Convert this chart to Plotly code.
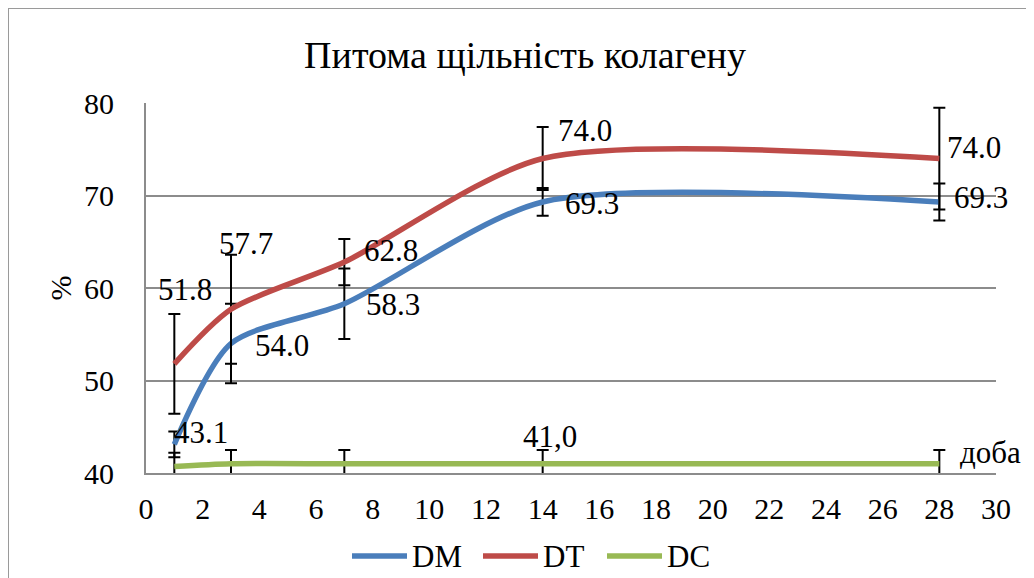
import plotly.graph_objects as go

# ---- data ----
days = [1, 3, 7, 14, 28]
dm_values = [43.1, 54.0, 58.3, 69.3, 69.3]
dt_values = [51.8, 57.7, 62.8, 74.0, 74.0]
dc_values = [40.7, 41.0, 41.0, 41.0, 41.0]
dm_err = [1.4, 4.3, 3.8, 1.5, 2.0]
dt_err = [5.4, 5.9, 2.5, 3.4, 5.5]
dc_err = [1.5, 1.5, 1.5, 1.5, 1.5]
dm_labels = ["43.1", "54.0", "58.3", "69.3", "69.3"]
dt_labels = ["51.8", "57.7", "62.8", "74.0", "74.0"]
dc_labels = ["", "", "", "41,0", ""]
series_names = ["DM", "DT", "DC"]
title_text = "Питома щільність колагену"
y_title = "%"
x_title = "доба"

# ---- styles ----
FONT = "Liberation Serif"
colors = ["#4A7EBB", "#BE4B48", "#98B954"]
# label offsets (px) from point centre: (dx, dy) with dy positive = up
dm_off = [(27, 12), (51, -2), (49, -1), (49, -2), (42, 4)]
dt_off = [(11, 74), (15, 66), (47, 12), (42, 28), (35, 11)]
dc_off = [(0, 0), (0, 0), (0, 0), (7, 27), (0, 0)]
# legend key start x (page px), key length, y centre
legend_x = [352, 483, 607]
legend_len = 55
legend_y = 556

OFF = 8  # page body margin
W, H = 1034 - OFF, 578 - OFF
L, R, T, B = 146 - OFF, 996 - OFF, 103 - OFF, 473 - OFF
pw, ph = R - L, B - T


def px_x(px):
    return (px - OFF - L) / pw


def px_y(py):
    return (B - (py - OFF)) / ph


fig = go.Figure()
for name, vals, errs, col in zip(series_names, [dm_values, dt_values, dc_values],
                                  [dm_err, dt_err, dc_err], colors):
    fig.add_trace(go.Scatter(
        x=days, y=vals, name=name, mode="lines", showlegend=False,
        line=dict(color=col, width=5.5, shape="spline", smoothing=0.75),
        error_y=dict(type="data", array=errs, visible=True, color="black",
                     thickness=2, width=6),
    ))

annotations = []
for vals, labels, offs in [(dm_values, dm_labels, dm_off),
                           (dt_values, dt_labels, dt_off),
                           (dc_values, dc_labels, dc_off)]:
    for x, v, lab, (dx, dy) in zip(days, vals, labels, offs):
        if not lab:
            continue
        annotations.append(dict(
            x=x, y=v, xref="x", yref="y", text=lab, showarrow=False,
            xanchor="center", yanchor="middle", xshift=dx, yshift=dy,
            font=dict(family=FONT, size=31, color="black")))

annotations.append(dict(
    x=px_x(990), y=px_y(452), xref="paper", yref="paper",
    text=x_title, showarrow=False, xanchor="center", yanchor="middle",
    font=dict(family=FONT, size=31, color="black")))

border = "#9a9a9a"
shapes = [
    dict(type="line", xref="paper", yref="paper",
         x0=px_x(8), x1=px_x(1040), y0=px_y(8), y1=px_y(8),
         line=dict(color=border, width=2)),
    dict(type="line", xref="paper", yref="paper",
         x0=px_x(8), x1=px_x(8), y0=px_y(8), y1=px_y(590),
         line=dict(color=border, width=2)),
]

# custom legend (longer keys as in the reference)
for name, col, lx in zip(series_names, colors, legend_x):
    shapes.append(dict(type="line", xref="paper", yref="paper",
                       x0=px_x(lx), x1=px_x(lx + legend_len),
                       y0=px_y(legend_y), y1=px_y(legend_y),
                       line=dict(color=col, width=5.5)))
    annotations.append(dict(
        x=px_x(lx + legend_len + 3), y=px_y(legend_y), xref="paper", yref="paper",
        text=name, showarrow=False, xanchor="left", yanchor="middle",
        font=dict(family=FONT, size=31, color="black")))

fig.update_layout(
    width=W, height=H,
    margin=dict(l=L, r=W - R, t=T, b=H - B, autoexpand=False),
    paper_bgcolor="white", plot_bgcolor="white",
    font=dict(family=FONT, size=30, color="black"),
    showlegend=False,
    title=dict(text=title_text, x=(525 - OFF) / W, xref="container", xanchor="center",
               y=1 - (55 - OFF) / H, yref="container", yanchor="middle",
               font=dict(family=FONT, size=38, color="black")),
    xaxis=dict(range=[0, 30], dtick=2, tick0=0, showgrid=False,
               showline=True, linecolor="#8c8c8c", linewidth=2,
               ticks="", zeroline=False, ticklabelstandoff=8,
               automargin=False, tickfont=dict(family=FONT, size=30)),
    yaxis=dict(range=[40, 80], dtick=10, showgrid=True, gridcolor="#8c8c8c",
               gridwidth=1.5, showline=True, linecolor="#8c8c8c", linewidth=2,
               ticks="", zeroline=False, ticklabelstandoff=24,
               automargin=False, tickfont=dict(family=FONT, size=30),
               title=dict(text=y_title, standoff=4,
                          font=dict(family=FONT, size=30))),
    annotations=annotations,
    shapes=shapes,
)

fig.write_html("out.html")
